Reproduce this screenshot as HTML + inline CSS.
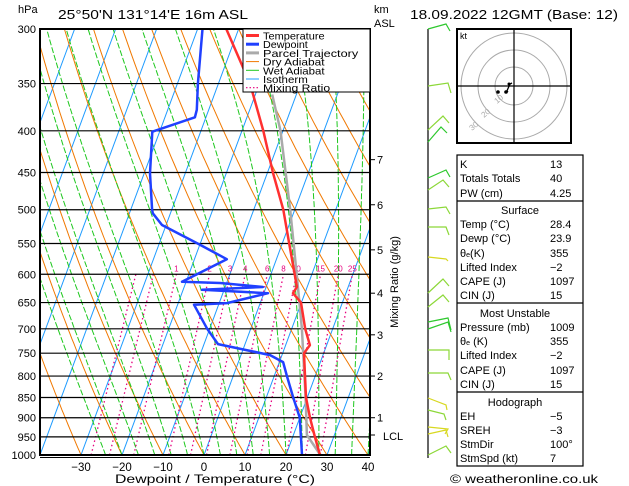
<!DOCTYPE html>
<html><head><meta charset="utf-8"><style>
body{margin:0;background:#fff;width:629px;height:486px;overflow:hidden}
svg{display:block;font-family:"Liberation Sans",sans-serif}
</style></head><body>
<svg id="c" width="629" height="486" viewBox="0 0 629 486">
<defs><clipPath id="pc"><rect x="40" y="29" width="330" height="426"/></clipPath></defs>
<g id="bg" clip-path="url(#pc)"></g>
<g id="iso"></g>
<g id="prof" clip-path="url(#pc)"></g>
<g id="axes"></g>
</svg>
<script>
const isobarLevels=[300,350,400,450,500,550,600,650,700,750,800,850,900,950,1000];
const tempTicks=[-30,-20,-10,0,10,20,30,40];
const tempP=[1000,950,900,850,800,750,733,700,650,633,622,600,550,500,450,400,350,300];
const tempT=[28.3,25.4,22.5,19.7,17.5,15.2,15.9,13.3,9.9,7.1,7.5,5.8,1.7,-2.8,-8.7,-14.8,-22.3,-33];
const dewP=[1000,900,849,800,769,754,731,700,654,651,633,627,622,615,613,575,551,522,505,500,451,401,385,377,350,300];
const dewT=[23.9,20.0,16.5,13.1,10.9,7.1,-6.6,-10.6,-16,-8.1,1.0,-15.4,-0.8,-11.6,-21,-12.1,-20.3,-31,-34.3,-34.8,-38.6,-41.8,-32.7,-32.9,-35,-38.8];
const parcelP=[1000,945,850,700,600,500,400,361];
const parcelT=[28.4,23.3,19.6,12.5,6.3,-1.1,-10.6,-15.9];
const mixRatios=[0.4,0.6,1,2,3,4,6,8,10,15,20,25];
const mixLabels=["1","2","3","4","6","8","10","15","20","25"];
const kmLabels=["1","2","3","4","5","6","7"];
const kmP=[900,800,712,633,560,493,434];
const NS="http://www.w3.org/2000/svg";
function yP(p){return 29+Math.log(p/300)/Math.log(10/3)*426;}
function xT(T,p){return 204+T*4.1+(455-yP(p))*0.37;}
function mk(tag,attrs,parent){const e=document.createElementNS(NS,tag);for(const k in attrs)e.setAttribute(k,attrs[k]);parent.appendChild(e);return e;}
const bg=document.getElementById('bg'),iso=document.getElementById('iso'),prof=document.getElementById('prof'),ax=document.getElementById('axes');
function path(pts){return pts.map((q,i)=>(i?'L':'M')+q[0].toFixed(1)+','+q[1].toFixed(1)).join('');}
for(let T=-120;T<=40;T+=10){const e=mk('line',{x1:xT(T,1000),y1:yP(1000),x2:xT(T,300),y2:yP(300),stroke:'#1e9bff','stroke-width':1},bg);

}
for(let th=-40;th<=200;th+=10){const pts=[];for(let p=1000;p>=300;p-=10){const T=(th+273.15)*Math.pow(p/1000,0.286)-273.15;pts.push([xT(T,p),yP(p)]);}
const e=mk('path',{d:path(pts),fill:'none',stroke:'#f07800','stroke-width':1},bg);

}
function es(T){return 6.112*Math.exp(17.67*T/(T+243.5));}
for(let tw=-24;tw<=40;tw+=4){let T=tw+273.15;const pts=[];for(let p=1000;p>=300;p-=5){pts.push([xT(T-273.15,p),yP(p)]);const rs=0.622*es(T-273.15)/(p-es(T-273.15));const d=(287*T+2.5e6*rs)/(p*(1004+2.5e6*2.5e6*rs*0.622/(287*T*T)));T-=d*5;}
const e=mk('path',{d:path(pts),fill:'none',stroke:'#1ec81e','stroke-width':1,'stroke-dasharray':'6,2'},bg);

}
function tw(w,p){const e=w*p/(622+w);const l=Math.log(e/6.112);return 243.5*l/(17.67-l);}
mixRatios.forEach(w=>{const e=mk('line',{x1:xT(tw(w,1000),1000),y1:yP(1000),x2:xT(tw(w,600),600),y2:yP(600),stroke:'#e6007e','stroke-width':1.3,'stroke-dasharray':'1.5,3'},bg);

});
mixLabels.forEach(s=>{const w=parseFloat(s);const t=mk('text',{x:xT(tw(w,600),600),y:yP(600)-3,'font-size':8,fill:'#e6007e','text-anchor':'middle'},bg);t.textContent=s;

});
isobarLevels.forEach(p=>{const e=mk('line',{x1:40,x2:370,y1:yP(p),y2:yP(p),stroke:'#000','stroke-width':1.2},iso);


const t=mk('text',{x:36,y:yP(p)+4,'font-size':11,'text-anchor':'end',fill:'#000'},ax);t.textContent=p;

});
function prof1(P,T,col,w,name){const e=mk('path',{d:path(P.map((p,i)=>[xT(T[i],p),yP(p)])),fill:'none',stroke:col,'stroke-width':w,'stroke-linejoin':'round'},prof);

}
prof1(parcelP,parcelT,'#aaaaaa',2.5,'parcel-trajectory');
prof1(tempP,tempT,'#ff3030',2.5,'temperature-line');
prof1(dewP,dewT,'#2040ff',2.5,'dewpoint-line');
mk('rect',{x:40,y:29,width:330,height:426,fill:'none',stroke:'#000','stroke-width':2},ax);
mk('line',{x1:40,x2:370,y1:457.5,y2:457.5,stroke:'#000','stroke-width':1},ax);
tempTicks.forEach(T=>{const t=mk('text',{x:xT(T,1000),y:471,'font-size':11.5,'text-anchor':'middle'},ax);t.textContent=T===0?'0':(T<0?'\u2212'+(-T):T);

});
kmLabels.forEach((s,i)=>{const y=yP(kmP[i]);mk('line',{x1:370,x2:375,y1:y,y2:y,stroke:'#000'},ax);const t=mk('text',{x:377,y:y+4,'font-size':11},ax);t.textContent=s;

});
const lg=mk('g',{},ax);
mk('rect',{x:243,y:29,width:127,height:63,fill:'#fff',stroke:'#000','stroke-width':1},lg);
const legItems=[["Temperature","#ff3030",3,""],["Dewpoint","#2040ff",3,""],["Parcel Trajectory","#aaaaaa",3,""],["Dry Adiabat","#f07800",1,""],["Wet Adiabat","#1ec81e",1,""],["Isotherm","#1e9bff",1,""],["Mixing Ratio","#e6007e",1.2,"1.5,2"]];
legItems.forEach((it,i)=>{const y=35.5+i*8.7;mk('line',{x1:246,x2:259,y1:y,y2:y,stroke:it[1],'stroke-width':it[2],'stroke-dasharray':it[3]},lg);const t=mk('text',{x:263,y:y+4,'font-size':10.5,'textLength':it[0].length*5.6,'lengthAdjust':'spacingAndGlyphs'},lg);t.textContent=it[0];

});
</script>
<svg width="629" height="486" style="position:absolute;left:0;top:0">
<g font-family="Liberation Sans, sans-serif" fill="#000">
<text x="18" y="13" font-size="11">hPa</text>
<text x="58" y="19" font-size="12.5" textLength="190" lengthAdjust="spacingAndGlyphs">25°50'N  131°14'E  16m  ASL</text>
<text x="374" y="13" font-size="11">km</text>
<text x="374" y="27" font-size="11">ASL</text>
<text x="410" y="19" font-size="12.5" textLength="208" lengthAdjust="spacingAndGlyphs">18.09.2022 12GMT (Base: 12)</text>
<text x="383" y="440" font-size="11">LCL</text>
<line x1="370" x2="375" y1="435" y2="435" stroke="#000"/>
<text x="115" y="483" font-size="12" textLength="200" lengthAdjust="spacingAndGlyphs">Dewpoint / Temperature (°C)</text>
<text transform="translate(398,282) rotate(-90)" font-size="11" text-anchor="middle">Mixing Ratio (g/kg)</text>
</g>
<g fill="none" stroke-width="1.2">
<line x1="428" y1="29" x2="428" y2="458" stroke="#000"/>
<polyline points="428,29 446,24 450,31" stroke="#2ec82e"/>
<polyline points="428,86 448,83 451,93" stroke="#8cd838"/>
<polyline points="428,130 443,116 449,123" stroke="#8cd838"/>
<polyline points="428,142 441,127 447,133" stroke="#2ec82e"/>
<polyline points="428,178 446,170 450,177" stroke="#2ec82e"/>
<polyline points="428,190 443,180 449,187" stroke="#8cd838"/>
<polyline points="428,209 446,207 450,214" stroke="#8cd838"/>
<polyline points="428,227 446,227 449,235" stroke="#8cd838"/>
<polyline points="428,257 446,259 448,261" stroke="#d8d820"/>
<polyline points="428,293 443,279 449,286" stroke="#8cd838"/>
<polyline points="428,307 443,295 449,302" stroke="#8cd838"/>
<polyline points="428,322 448,318 451,330" stroke="#2ec82e"/>
<polyline points="428,329 448,322 451,332" stroke="#2ec82e"/>
<polyline points="428,350 449,350 449,360" stroke="#8cd838"/>
<polyline points="428,373 448,373 451,380" stroke="#8cd838"/>
<polyline points="428,398 446,405 447,410" stroke="#d8d820"/>
<polyline points="428,410 444,414 446,420" stroke="#8cd838"/>
<polyline points="428,427 448,429 445,434" stroke="#d8d820"/>
<polyline points="428,434 446,430 448,437" stroke="#d8d820"/>
<polyline points="428,455 446,446 451,453" stroke="#8cd838"/>
</g>
<g>
<rect x="457" y="29" width="114" height="114" fill="#fff" stroke="#000" stroke-width="2"/>
<circle cx="514" cy="86" r="19" fill="none" stroke="#aaa"/>
<circle cx="514" cy="86" r="36" fill="none" stroke="#aaa"/>
<circle cx="514" cy="86" r="53" fill="none" stroke="#aaa"/>
<line x1="458" x2="570" y1="86" y2="86" stroke="#000" stroke-width="1.2"/>
<line x1="514" x2="514" y1="30" y2="142" stroke="#000" stroke-width="1.2"/>
<text x="460" y="39" font-size="9" font-family="Liberation Sans, sans-serif">kt</text>
<text x="497" y="104" font-size="8" fill="#aaa" font-family="Liberation Sans, sans-serif" transform="rotate(-40 497 104)">10</text>
<text x="484" y="118" font-size="8" fill="#aaa" font-family="Liberation Sans, sans-serif" transform="rotate(-40 484 118)">20</text>
<text x="472" y="131" font-size="8" fill="#aaa" font-family="Liberation Sans, sans-serif" transform="rotate(-40 472 131)">30</text>
<polyline points="508,91 506,93 510,84 512,83" fill="none" stroke="#000" stroke-width="1.3"/>
<circle cx="498" cy="92" r="1.8"/><circle cx="506" cy="92" r="1.8"/><circle cx="509" cy="84" r="1.5"/>
</g>
<g font-family="Liberation Sans, sans-serif" font-size="11" fill="#000">
<rect x="457" y="155" width="126" height="311" fill="#fff" stroke="#000" stroke-width="1.2"/>
<line x1="457" x2="583" y1="201" y2="201" stroke="#000" stroke-width="1.2"/>
<line x1="457" x2="583" y1="303" y2="303" stroke="#000" stroke-width="1.2"/>
<line x1="457" x2="583" y1="392" y2="392" stroke="#000" stroke-width="1.2"/>
<text x="460" y="168">K</text><text x="550" y="168">13</text>
<text x="460" y="182">Totals Totals</text><text x="550" y="182">40</text>
<text x="460" y="197">PW (cm)</text><text x="550" y="197">4.25</text>
<text x="520" y="214" text-anchor="middle">Surface</text>
<text x="460" y="228">Temp (°C)</text><text x="550" y="228">28.4</text>
<text x="460" y="242">Dewp (°C)</text><text x="550" y="242">23.9</text>
<text x="460" y="257">θ<tspan font-size="7">e</tspan>(K)</text><text x="550" y="257">355</text>
<text x="460" y="271">Lifted Index</text><text x="550" y="271">−2</text>
<text x="460" y="285">CAPE (J)</text><text x="550" y="285">1097</text>
<text x="460" y="299">CIN (J)</text><text x="550" y="299">15</text>
<text x="515" y="317" text-anchor="middle">Most Unstable</text>
<text x="460" y="331">Pressure (mb)</text><text x="550" y="331">1009</text>
<text x="460" y="345">θ<tspan font-size="7">e</tspan> (K)</text><text x="550" y="345">355</text>
<text x="460" y="359">Lifted Index</text><text x="550" y="359">−2</text>
<text x="460" y="374">CAPE (J)</text><text x="550" y="374">1097</text>
<text x="460" y="388">CIN (J)</text><text x="550" y="388">15</text>
<text x="515" y="406" text-anchor="middle">Hodograph</text>
<text x="460" y="420">EH</text><text x="550" y="420">−5</text>
<text x="460" y="434">SREH</text><text x="550" y="434">−3</text>
<text x="460" y="448">StmDir</text><text x="550" y="448">100°</text>
<text x="460" y="462">StmSpd (kt)</text><text x="550" y="462">7</text>
</g>
<text x="450" y="483" font-size="12" textLength="148" lengthAdjust="spacingAndGlyphs" font-family="Liberation Sans, sans-serif">© weatheronline.co.uk</text>
</svg>
</body></html>
